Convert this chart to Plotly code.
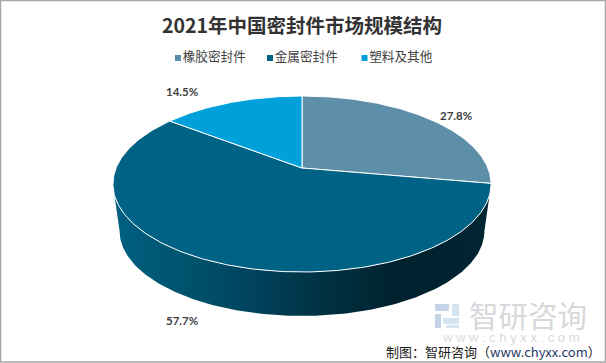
import numpy as np
import plotly.graph_objects as go

categories = ["橡胶密封件", "金属密封件", "塑料及其他"]
shares = [27.8, 57.7, 14.5]
colors = ["#5E8FA8", "#006285", "#00A0DA"]

W, H = 606, 363
# pie projection (perspective view of a tilted disc), in page pixels
CX, CY, AX, RY, K = 302.0, 168.0, 185.9, 85.1, 0.1818
DEPTH, SHRINK = 47.5, 0.965


def project(theta, lower=False):
    """theta clockwise from 12 o'clock, radians."""
    x, y = np.sin(theta), np.cos(theta)
    d = 1 + K * y
    px, py = AX * x / d, -RY * y / d
    if lower:
        return CX + SHRINK * px, CY + SHRINK * py + DEPTH
    return CX + px, CY + py


fractions = np.array(shares) / sum(shares)
ends = np.cumsum(fractions) * 2 * np.pi
starts = ends - fractions * 2 * np.pi

fig = go.Figure()

# side wall of the big slice: visible front part of the rim
tx, ty = project(np.linspace(np.radians(107.5), np.radians(252.5), 200))
bx, by = project(np.linspace(np.radians(100.5), np.radians(259.5), 200), lower=True)
fig.add_trace(go.Scatter(
    x=np.r_[tx, bx[::-1], tx[0]], y=np.r_[ty, by[::-1], ty[0]],
    mode="lines", line=dict(width=0), fill="toself", showlegend=False, hoverinfo="skip",
    fillgradient=dict(
        type="horizontal",
        colorscale=[[0, "#005F80"], [0.166, "#005570"], [0.39, "#00405A"],
                    [0.57, "#003040"], [0.76, "#00212E"], [1, "#002533"]],
    ),
))

# top faces
for s, e, c in zip(starts, ends, colors):
    th = np.linspace(s, e, 240)
    x, y = project(th)
    fig.add_trace(go.Scatter(
        x=np.r_[CX, x, CX], y=np.r_[CY, y, CY], mode="lines",
        line=dict(color="#FFFFFF", width=1), fill="toself", fillcolor=c,
        showlegend=False, hoverinfo="skip",
    ))

cjk = "Noto Sans CJK SC"

# legend row
LEGEND_X = [178, 270, 364.5]
LEGEND_Y = 58
for name, c, lx in zip(categories, colors, LEGEND_X):
    fig.add_trace(go.Scatter(
        x=[lx], y=[LEGEND_Y], mode="markers+text", name=name, showlegend=False,
        marker=dict(symbol="square", size=6, color=c),
        text=[name], textposition="middle right",
        textfont=dict(family=cjk, size=12.6, color="#404040"),
        hoverinfo="skip",
    ))

LABEL_XY = [(456, 115), (182, 320), (182, 91)]
for v, (lx, ly) in zip(shares, LABEL_XY):
    fig.add_annotation(x=lx, y=ly, text=f"<b>{v}%</b>", showarrow=False,
                       font=dict(family="Lato, Liberation Sans", size=11.5, color="#404040"))

fig.add_annotation(x=302, y=24, text="<b>2021年中国密封件市场规模结构</b>", showarrow=False,
                   font=dict(family=cjk, size=19.5, color="#333333"))
# watermark
fig.add_annotation(x=528, y=314, text="智研咨询", showarrow=False,
                   font=dict(family=cjk, size=29.5, color="#D6D8DB"))
fig.add_annotation(x=511, y=337, text="w w w . c h y x x . c o m", showarrow=False,
                   font=dict(family="Liberation Sans", size=13, color="#D8DADD"))
fig.add_annotation(x=603, y=351, xanchor="right",
                   text="制图：智研咨询（<span style='color:#1F3864'>www.chyxx.com</span>）",
                   showarrow=False, font=dict(family=cjk, size=13, color="#1A1A1A"))
logo = [(435, 304, 449, 311, "#C4D3E6"), (435, 314, 441, 328, "#C4D3E6"),
        (443, 318, 459, 324, "#D4E3F2"), (452, 304, 459, 316, "#D4E3F2"),
        (446, 325, 459, 328, "#D4E3F2")]
shapes = [dict(type="rect", x0=a, y0=b, x1=c, y1=d, fillcolor=col, line_width=0, layer="below")
          for a, b, c, d, col in logo]
# chart frame
shapes.append(dict(type="rect", x0=0.5, y0=0.5, x1=W - 0.5, y1=H - 1,
                   line=dict(color="#A6A6A6", width=1.5), fillcolor="rgba(0,0,0,0)"))

fig.update_layout(
    width=W, height=H, margin=dict(l=0, r=0, t=0, b=0),
    paper_bgcolor="#FFFFFF", plot_bgcolor="#FFFFFF", shapes=shapes, showlegend=False,
    xaxis=dict(range=[0, W], visible=False, fixedrange=True),
    yaxis=dict(range=[H, 0], visible=False, fixedrange=True),
)
fig.write_html("out.html", config=dict(displayModeBar=False),
               post_script="document.body.style.margin='0';document.body.style.overflow='hidden';")
